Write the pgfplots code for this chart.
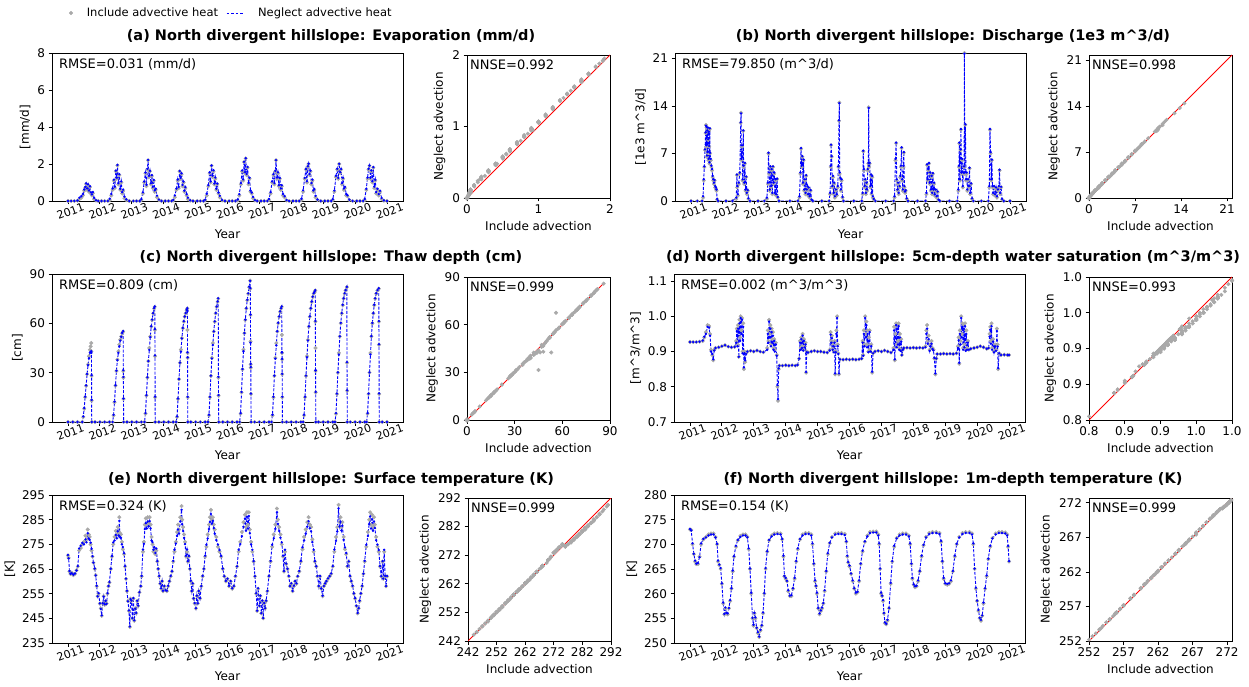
\documentclass[border=0pt]{standalone}
\usepackage{fontspec}
\setmainfont{DejaVu Sans}
\usepackage{pgfplots}
\pgfplotsset{compat=1.18}
\usepackage{pgfplotstable}
\definecolor{incgray}{RGB}{169,169,169}
\newcommand\fs[1]{\fontsize{#1}{#1}\selectfont}

\pgfplotstableread{
t inc neg
2011.00 0 0
2011.10 0 0
2011.20 0 0
2011.30 0.02 0.03
2011.36 0.10 0.18
2011.42 0.18 0.26
2011.47 0.30 0.38
2011.51 0.55 0.62
2011.54 0.70 0.76
2011.57 0.92 0.95
2011.60 0.60 0.68
2011.63 0.85 0.90
2011.66 0.50 0.57
2011.69 0.75 0.80
2011.72 0.40 0.47
2011.75 0.30 0.36
2011.78 0.42 0.48
2011.82 0.10 0.17
2011.88 0.02 0.04
2011.95 0 0
2012.05 0 0
2012.15 0 0
2012.25 0 0
2012.31 0.05 0.12
2012.36 0.30 0.38
2012.40 0.60 0.68
2012.44 1.10 1.15
2012.47 0.70 0.78
2012.50 1.60 1.64
2012.53 1.20 1.26
2012.55 1.92 1.95
2012.58 0.90 0.97
2012.61 1.40 1.45
2012.64 0.60 0.66
2012.67 1.00 1.06
2012.70 0.40 0.48
2012.73 0.55 0.61
2012.77 0.15 0.24
2012.83 0.05 0.09
2012.92 0 0
2013.05 0 0
2013.15 0 0
2013.25 0 0
2013.30 0.05 0.10
2013.35 0.40 0.47
2013.39 1.00 1.05
2013.43 1.50 1.54
2013.46 0.80 0.88
2013.49 1.70 1.74
2013.51 2.20 2.22
2013.54 1.30 1.36
2013.57 1.60 1.63
2013.60 0.90 0.96
2013.63 1.35 1.40
2013.66 0.70 0.77
2013.69 1.10 1.14
2013.72 0.50 0.58
2013.75 0.60 0.66
2013.79 0.20 0.29
2013.85 0.05 0.08
2013.93 0 0
2014.05 0 0
2014.15 0 0
2014.25 0 0
2014.30 0.03 0.06
2014.35 0.20 0.30
2014.40 0.60 0.67
2014.44 1.10 1.16
2014.47 0.70 0.76
2014.50 1.60 1.62
2014.53 1.20 1.25
2014.56 1.45 1.50
2014.59 0.80 0.87
2014.62 1.00 1.05
2014.65 0.50 0.56
2014.68 0.70 0.75
2014.72 0.30 0.37
2014.76 0.10 0.18
2014.83 0.02 0.04
2014.92 0 0
2015.05 0 0
2015.15 0 0
2015.25 0 0
2015.30 0.03 0.07
2015.35 0.30 0.39
2015.40 0.80 0.86
2015.44 1.50 1.55
2015.47 1.00 1.06
2015.50 1.90 1.92
2015.53 1.30 1.37
2015.56 1.60 1.66
2015.59 0.90 0.95
2015.62 1.20 1.27
2015.65 0.60 0.67
2015.68 0.90 0.94
2015.72 0.40 0.46
2015.76 0.20 0.28
2015.83 0.03 0.05
2015.92 0 0
2016.05 0 0
2016.15 0 0
2016.25 0 0
2016.32 0.03 0.08
2016.37 0.30 0.37
2016.42 0.90 0.97
2016.46 1.60 1.65
2016.49 1.10 1.17
2016.52 2.10 2.12
2016.55 1.50 1.56
2016.57 2.30 2.31
2016.60 1.40 1.46
2016.63 1.80 1.84
2016.66 0.90 0.98
2016.69 1.20 1.26
2016.72 0.50 0.57
2016.76 0.40 0.46
2016.80 0.15 0.22
2016.86 0.03 0.05
2016.93 0 0
2017.05 0 0
2017.15 0 0
2017.25 0 0
2017.30 0.05 0.11
2017.35 0.40 0.48
2017.40 1.00 1.06
2017.44 1.40 1.45
2017.47 0.90 0.97
2017.50 1.60 1.63
2017.52 2.20 2.21
2017.55 1.20 1.27
2017.58 1.50 1.55
2017.61 0.80 0.86
2017.64 1.20 1.24
2017.67 0.60 0.68
2017.70 0.80 0.85
2017.74 0.30 0.38
2017.79 0.20 0.26
2017.85 0.03 0.05
2017.93 0 0
2018.05 0 0
2018.15 0 0
2018.25 0 0
2018.32 0.05 0.12
2018.37 0.50 0.58
2018.42 1.20 1.25
2018.46 1.70 1.73
2018.49 1.00 1.07
2018.52 1.85 1.88
2018.54 2.00 2.02
2018.57 1.40 1.46
2018.60 1.60 1.64
2018.63 0.90 0.97
2018.66 1.10 1.16
2018.69 0.50 0.57
2018.72 0.60 0.65
2018.76 0.20 0.28
2018.82 0.05 0.08
2018.92 0 0
2019.05 0 0
2019.15 0 0
2019.25 0 0
2019.30 0.05 0.10
2019.35 0.50 0.57
2019.40 1.30 1.36
2019.44 1.70 1.74
2019.47 1.20 1.25
2019.50 2.00 2.01
2019.53 1.50 1.56
2019.56 1.70 1.73
2019.59 0.90 0.97
2019.62 1.20 1.25
2019.65 0.60 0.68
2019.68 0.70 0.76
2019.72 0.30 0.38
2019.76 0.25 0.31
2019.82 0.05 0.07
2019.92 0 0
2020.05 0 0
2020.15 0 0
2020.25 0 0
2020.30 0.05 0.11
2020.35 0.60 0.66
2020.39 1.20 1.27
2020.42 1.70 1.74
2020.45 1.90 1.92
2020.48 1.20 1.26
2020.51 1.60 1.65
2020.54 1.00 1.07
2020.57 1.80 1.83
2020.60 0.70 0.78
2020.63 1.10 1.15
2020.66 0.40 0.48
2020.70 0.60 0.66
2020.74 0.30 0.37
2020.78 0.50 0.55
2020.83 0.10 0.16
2020.90 0.02 0.03
2021.00 0 0
}\dataA

\pgfplotstableread{
t inc neg
2011.00 0 0
2011.20 0 0
2011.35 0 0
2011.38 0.5 0.7
2011.40 3.0 3.2
2011.42 5.0 5.1
2011.44 7.5 7.6
2011.46 10.0 10.1
2011.47 11.2 11.1
2011.48 8.0 8.2
2011.49 10.8 10.9
2011.50 6.5 6.7
2011.51 10.5 10.4
2011.52 7.0 7.2
2011.53 10.7 10.8
2011.54 9.0 9.1
2011.55 6.0 6.2
2011.56 10.3 10.2
2011.57 8.0 8.1
2011.58 5.5 5.7
2011.59 10.6 10.7
2011.60 7.0 7.1
2011.62 6.0 6.2
2011.64 5.0 5.2
2011.66 4.5 4.7
2011.68 3.5 3.7
2011.70 3.0 3.2
2011.72 2.5 2.7
2011.74 3.0 3.1
2011.76 2.0 2.2
2011.78 1.8 2.0
2011.80 1.5 1.7
2011.82 0.2 0.3
2011.85 0 0
2012.10 0 0
2012.30 0 0
2012.42 0.3 0.5
2012.44 3.8 3.9
2012.45 2.0 2.2
2012.47 0.8 1.0
2012.50 2.5 2.7
2012.53 4.0 4.2
2012.56 11.5 11.6
2012.57 13.0 12.9
2012.58 6.0 6.2
2012.60 8.0 8.2
2012.62 3.0 3.2
2012.64 10.3 10.4
2012.65 5.0 5.2
2012.67 2.5 2.7
2012.69 5.5 5.6
2012.71 1.5 1.7
2012.73 3.5 3.6
2012.75 1.0 1.2
2012.78 1.5 1.6
2012.80 0.3 0.4
2012.85 0 0
2013.10 0 0
2013.30 0 0
2013.38 0.3 0.5
2013.41 2.5 2.7
2013.43 7.0 7.1
2013.45 4.0 4.2
2013.47 1.5 1.7
2013.49 5.0 5.1
2013.51 2.0 2.2
2013.53 4.5 4.7
2013.55 1.0 1.2
2013.57 5.0 5.1
2013.59 2.5 2.7
2013.61 4.0 4.2
2013.63 1.0 1.2
2013.65 3.0 3.2
2013.67 0.8 1.0
2013.70 3.2 3.3
2013.72 0.5 0.6
2013.76 0 0
2014.10 0 0
2014.35 0 0
2014.40 0.5 0.7
2014.43 4.0 4.2
2014.45 7.7 7.8
2014.47 5.0 5.2
2014.49 6.5 6.6
2014.51 2.5 2.7
2014.53 6.0 6.1
2014.55 1.5 1.7
2014.57 3.0 3.2
2014.59 1.0 1.2
2014.61 3.7 3.8
2014.63 1.5 1.7
2014.65 2.0 2.2
2014.67 0.8 1.0
2014.69 1.8 2.0
2014.72 0.5 0.7
2014.75 1.5 1.6
2014.78 0.1 0.2
2014.82 0 0
2015.10 0 0
2015.33 0 0
2015.36 1.0 1.2
2015.38 5.0 5.2
2015.39 8.2 8.3
2015.41 6.5 6.6
2015.43 2.0 2.2
2015.45 3.5 3.7
2015.47 1.0 1.2
2015.49 2.5 2.7
2015.51 0.5 0.7
2015.54 1.5 1.7
2015.57 0.8 1.0
2015.60 2.0 2.2
2015.62 5.0 5.1
2015.64 11.8 11.9
2015.65 14.5 14.4
2015.66 4.0 4.2
2015.68 3.3 3.4
2015.70 1.5 1.7
2015.72 3.0 3.2
2015.75 0.5 0.6
2015.78 0 0
2016.10 0 0
2016.35 0 0
2016.38 1.0 1.2
2016.40 7.3 7.4
2016.42 4.5 4.7
2016.44 2.0 2.2
2016.46 3.0 3.2
2016.48 1.0 1.2
2016.50 2.5 2.7
2016.52 1.5 1.7
2016.54 4.5 4.7
2016.56 5.5 5.6
2016.57 13.8 13.7
2016.58 5.0 5.2
2016.60 5.5 5.6
2016.62 2.0 2.2
2016.64 3.8 3.9
2016.66 1.0 1.2
2016.68 3.5 3.7
2016.70 0.5 0.7
2016.73 0.2 0.3
2016.78 0 0
2017.10 0 0
2017.35 0 0
2017.38 0.5 0.7
2017.41 6.0 6.2
2017.43 8.5 8.6
2017.45 3.0 3.2
2017.47 1.5 1.7
2017.49 2.5 2.7
2017.51 1.0 1.2
2017.54 2.0 2.2
2017.56 3.5 3.7
2017.58 5.0 5.2
2017.60 7.8 7.9
2017.62 3.0 3.2
2017.64 1.5 1.7
2017.66 5.0 5.2
2017.67 7.1 7.2
2017.69 2.0 2.2
2017.71 1.2 1.4
2017.73 1.5 1.6
2017.76 0.3 0.4
2017.80 0 0
2018.10 0 0
2018.35 0 0
2018.38 1.0 1.2
2018.40 5.3 5.4
2018.42 3.0 3.2
2018.44 4.5 4.7
2018.46 5.5 5.6
2018.48 2.5 2.7
2018.50 4.0 4.2
2018.52 1.5 1.7
2018.54 3.5 3.7
2018.56 1.0 1.2
2018.58 4.0 4.1
2018.60 1.5 1.7
2018.62 2.5 2.7
2018.64 0.8 1.0
2018.67 1.5 1.7
2018.70 0.5 0.7
2018.73 1.3 1.4
2018.76 0.1 0.2
2018.80 0 0
2019.10 0 0
2019.35 0 0
2019.38 1.5 1.7
2019.40 5.0 5.2
2019.41 8.5 8.6
2019.43 3.0 3.2
2019.45 7.5 7.6
2019.46 10.5 10.6
2019.48 4.0 4.2
2019.50 6.0 6.2
2019.52 2.0 2.2
2019.54 4.0 4.2
2019.56 5.0 5.1
2019.57 21.8 21.7
2019.58 4.0 4.2
2019.60 11.2 11.3
2019.62 3.0 3.2
2019.64 4.0 4.2
2019.66 1.5 1.7
2019.68 3.0 3.2
2019.71 2.0 2.2
2019.73 4.8 4.9
2019.75 1.0 1.2
2019.78 2.5 2.6
2019.81 0.3 0.4
2019.85 0 0
2020.10 0 0
2020.32 0 0
2020.35 2.0 2.2
2020.37 10.5 10.6
2020.39 7.0 7.2
2020.41 3.0 3.2
2020.43 6.0 6.1
2020.45 2.0 2.2
2020.47 1.0 1.2
2020.50 2.0 2.2
2020.53 0.8 1.0
2020.56 1.8 2.0
2020.59 0.5 0.7
2020.62 1.5 1.7
2020.65 2.0 2.2
2020.67 4.5 4.6
2020.69 1.0 1.2
2020.72 2.0 2.1
2020.75 0.2 0.3
2020.80 0 0
2021.00 0 0
}\dataB

\pgfplotstableread{
t inc neg
2011.00 0 0
2011.15 0 0
2011.30 0 0
2011.45 0 0
2011.48 3 3.4
2011.51 8 8.5
2011.54 15 15.4
2011.57 22 22.3
2011.60 29 29.2
2011.63 35 34.6
2011.66 40 38.8
2011.69 44 42.2
2011.71 46 42.5
2011.73 48 43.0
2011.735 43 42.0
2011.74 28 28.5
2011.742 13 13.5
2011.745 0 0
2011.85 0 0
2012.00 0 0
2012.15 0 0
2012.30 0 0
2012.40 0 0
2012.43 4 4.4
2012.46 12 12.4
2012.49 22 22.3
2012.52 31 31.2
2012.55 38 37.6
2012.58 43 42.0
2012.61 47 46.0
2012.64 50 49.5
2012.67 52 51.8
2012.70 54 54.2
2012.73 55 55.3
2012.735 31 31.5
2012.738 27 27.4
2012.741 14 14.3
2012.745 0 0
2012.85 0 0
2013.00 0 0
2013.15 0 0
2013.30 0 0
2013.40 0 0
2013.43 5 5.4
2013.46 16 16.3
2013.49 27 27.2
2013.52 37 37.0
2013.55 45 43.8
2013.58 52 51.6
2013.61 58 58.2
2013.64 62 62.3
2013.67 66 66.2
2013.70 69 69.3
2013.72 70 70.2
2013.725 56 56.5
2013.728 40 40.5
2013.731 15 15.4
2013.735 0 0
2013.85 0 0
2014.00 0 0
2014.15 0 0
2014.30 0 0
2014.39 0 0
2014.42 3 3.4
2014.45 14 14.3
2014.48 26 26.2
2014.51 36 36.1
2014.54 44 42.8
2014.57 51 50.8
2014.60 57 57.2
2014.63 61 61.3
2014.66 64 64.2
2014.69 66 66.3
2014.72 68 68.2
2014.74 69 69.2
2014.745 56 67.5
2014.748 42 42.4
2014.75 39 39.3
2014.753 15 15.3
2014.756 0 0
2014.85 0 0
2015.00 0 0
2015.15 0 0
2015.30 0 0
2015.39 0 0
2015.42 4 4.4
2015.45 15 15.3
2015.48 28 28.2
2015.51 39 38.6
2015.54 48 46.8
2015.57 55 55.1
2015.60 61 61.2
2015.63 66 66.3
2015.66 70 70.2
2015.69 73 73.3
2015.71 75 75.2
2015.715 27 27.5
2015.72 16 16.4
2015.725 0 0
2015.85 0 0
2016.00 0 0
2016.15 0 0
2016.30 0 0
2016.38 0 0
2016.41 5 5.4
2016.44 18 18.3
2016.47 32 32.2
2016.50 44 43.0
2016.53 54 54.1
2016.56 62 62.3
2016.59 69 69.2
2016.62 74 74.3
2016.65 78 78.2
2016.68 82 82.3
2016.71 86 85.8
2016.715 81 81.4
2016.72 65 65.4
2016.723 49 48.2
2016.726 35 35.3
2016.73 33 33.4
2016.735 17 17.3
2016.74 0 0
2016.85 0 0
2017.00 0 0
2017.15 0 0
2017.30 0 0
2017.38 0 0
2017.41 4 4.4
2017.44 15 15.3
2017.47 28 28.2
2017.50 39 38.5
2017.53 48 46.6
2017.56 55 55.2
2017.59 60 60.3
2017.62 64 64.2
2017.65 67 67.3
2017.68 69 69.2
2017.70 70 70.3
2017.705 53 42.5
2017.708 42 42.3
2017.711 38 38.4
2017.714 29 29.3
2017.717 15 15.4
2017.72 0 0
2017.85 0 0
2018.00 0 0
2018.15 0 0
2018.30 0 0
2018.37 0 0
2018.40 4 4.4
2018.43 15 15.3
2018.46 28 28.2
2018.49 40 39.4
2018.52 50 49.6
2018.55 58 58.2
2018.58 64 64.3
2018.61 69 69.2
2018.64 73 73.3
2018.67 76 76.2
2018.70 78 78.3
2018.73 79 79.2
2018.75 80 80.2
2018.755 61 61.4
2018.758 45 31.5
2018.761 31 31.4
2018.764 18 18.3
2018.768 0 0
2018.85 0 0
2019.00 0 0
2019.15 0 0
2019.30 0 0
2019.37 0 0
2019.40 5 5.4
2019.43 17 17.3
2019.46 30 30.2
2019.49 42 41.0
2019.52 52 52.1
2019.55 60 60.3
2019.58 66 66.2
2019.61 71 71.3
2019.64 75 75.2
2019.67 78 78.3
2019.70 80 80.2
2019.74 82 82.2
2019.745 36 36.4
2019.75 19 19.3
2019.755 0 0
2019.85 0 0
2020.00 0 0
2020.15 0 0
2020.30 0 0
2020.36 0 0
2020.39 5 5.4
2020.42 17 17.3
2020.45 30 30.2
2020.48 42 41.0
2020.51 52 52.2
2020.54 60 60.3
2020.57 66 66.2
2020.60 71 71.3
2020.63 75 75.2
2020.66 78 78.3
2020.70 80 80.2
2020.74 81 81.3
2020.745 61 61.4
2020.748 47 47.3
2020.752 17 17.4
2020.756 0 0
2020.85 0 0
2021.00 0 0
}\dataC

\pgfplotstableread{
t inc neg
2011.00 0.927 0.927
2011.10 0.927 0.927
2011.20 0.927 0.927
2011.30 0.928 0.928
2011.40 0.930 0.931
2011.45 0.940 0.942
2011.50 0.955 0.950
2011.55 0.975 0.970
2011.60 0.972 0.968
2011.63 0.950 0.945
2011.66 0.905 0.900
2011.70 0.890 0.893
2011.73 0.875 0.878
2011.76 0.905 0.903
2011.80 0.910 0.910
2011.90 0.912 0.912
2012.00 0.915 0.915
2012.10 0.918 0.918
2012.20 0.914 0.914
2012.30 0.912 0.912
2012.40 0.913 0.913
2012.45 0.930 0.925
2012.47 0.965 0.958
2012.49 0.920 0.915
2012.51 0.975 0.965
2012.53 0.885 0.885
2012.55 0.990 0.980
2012.57 0.940 0.930
2012.59 1.000 0.995
2012.61 0.960 0.950
2012.63 0.995 0.990
2012.65 0.900 0.895
2012.67 0.980 0.970
2012.69 0.850 0.855
2012.71 0.900 0.895
2012.73 0.870 0.875
2012.76 0.895 0.893
2012.80 0.900 0.900
2012.90 0.902 0.902
2013.00 0.900 0.900
2013.10 0.903 0.903
2013.20 0.900 0.900
2013.30 0.898 0.898
2013.42 0.910 0.905
2013.44 0.960 0.950
2013.46 0.930 0.925
2013.48 0.990 0.985
2013.50 0.950 0.940
2013.52 0.975 0.965
2013.54 0.920 0.915
2013.56 0.965 0.955
2013.58 0.935 0.925
2013.60 0.955 0.945
2013.62 0.910 0.905
2013.64 0.935 0.930
2013.66 0.905 0.900
2013.69 0.925 0.920
2013.72 0.890 0.888
2013.74 0.800 0.805
2013.76 0.760 0.765
2013.78 0.850 0.852
2013.80 0.860 0.860
2013.90 0.860 0.860
2014.00 0.861 0.861
2014.10 0.860 0.860
2014.20 0.861 0.861
2014.30 0.860 0.860
2014.37 0.862 0.862
2014.42 0.880 0.880
2014.45 0.930 0.925
2014.47 0.910 0.905
2014.49 0.940 0.935
2014.51 0.915 0.910
2014.53 0.950 0.945
2014.55 0.905 0.903
2014.57 0.935 0.930
2014.60 0.915 0.912
2014.62 0.925 0.920
2014.64 0.840 0.842
2014.66 0.900 0.898
2014.70 0.897 0.897
2014.80 0.900 0.900
2014.90 0.902 0.902
2015.00 0.900 0.900
2015.10 0.900 0.900
2015.20 0.898 0.898
2015.30 0.897 0.897
2015.38 0.905 0.903
2015.41 0.955 0.948
2015.43 0.930 0.925
2015.45 0.945 0.938
2015.47 0.910 0.905
2015.49 0.920 0.915
2015.51 0.900 0.898
2015.53 0.930 0.925
2015.55 0.835 0.838
2015.57 0.900 0.898
2015.59 0.960 0.950
2015.61 1.000 0.995
2015.63 0.920 0.915
2015.65 0.895 0.893
2015.67 0.835 0.838
2015.70 0.878 0.878
2015.80 0.877 0.877
2015.90 0.878 0.878
2016.00 0.877 0.877
2016.10 0.878 0.878
2016.20 0.877 0.877
2016.30 0.878 0.878
2016.38 0.880 0.880
2016.41 0.930 0.925
2016.43 0.890 0.888
2016.45 0.960 0.950
2016.47 0.920 0.915
2016.49 1.000 0.995
2016.51 0.950 0.940
2016.53 0.985 0.975
2016.55 0.920 0.912
2016.57 0.960 0.950
2016.59 0.900 0.898
2016.61 0.940 0.930
2016.63 0.960 0.955
2016.65 0.905 0.900
2016.68 0.920 0.915
2016.71 0.840 0.843
2016.74 0.895 0.895
2016.80 0.900 0.900
2016.90 0.902 0.902
2017.00 0.900 0.900
2017.10 0.903 0.903
2017.20 0.900 0.900
2017.30 0.897 0.897
2017.38 0.910 0.905
2017.40 0.970 0.960
2017.42 0.875 0.878
2017.44 0.950 0.940
2017.46 0.980 0.975
2017.48 0.920 0.912
2017.50 0.975 0.965
2017.52 0.930 0.920
2017.54 0.980 0.972
2017.56 0.910 0.905
2017.58 0.950 0.940
2017.60 0.905 0.902
2017.62 0.935 0.928
2017.64 0.890 0.890
2017.67 0.905 0.905
2017.70 0.910 0.910
2017.80 0.911 0.911
2017.90 0.910 0.910
2018.00 0.911 0.911
2018.10 0.910 0.910
2018.20 0.911 0.911
2018.30 0.910 0.910
2018.38 0.915 0.912
2018.41 0.960 0.950
2018.43 0.975 0.965
2018.45 0.930 0.922
2018.48 0.945 0.935
2018.51 0.905 0.902
2018.54 0.920 0.915
2018.57 0.930 0.922
2018.60 0.910 0.907
2018.63 0.905 0.903
2018.66 0.880 0.882
2018.69 0.835 0.838
2018.72 0.880 0.880
2018.75 0.893 0.893
2018.85 0.893 0.893
2018.95 0.894 0.894
2019.05 0.893 0.893
2019.15 0.894 0.894
2019.25 0.893 0.893
2019.35 0.895 0.895
2019.40 0.915 0.910
2019.42 0.940 0.932
2019.44 0.865 0.868
2019.46 0.960 0.950
2019.48 0.930 0.920
2019.50 1.000 0.995
2019.52 0.950 0.940
2019.54 0.980 0.970
2019.56 0.910 0.905
2019.58 0.975 0.965
2019.60 0.920 0.912
2019.62 0.980 0.972
2019.64 0.905 0.902
2019.66 0.960 0.950
2019.68 0.910 0.905
2019.71 0.930 0.925
2019.74 0.905 0.905
2019.80 0.908 0.908
2019.90 0.910 0.910
2020.00 0.912 0.912
2020.10 0.915 0.915
2020.20 0.912 0.912
2020.30 0.908 0.908
2020.36 0.910 0.910
2020.39 0.950 0.942
2020.41 0.970 0.962
2020.43 0.930 0.922
2020.45 0.980 0.972
2020.47 0.910 0.905
2020.50 0.935 0.928
2020.53 0.900 0.898
2020.56 0.920 0.915
2020.59 0.905 0.902
2020.62 0.965 0.958
2020.64 0.920 0.914
2020.66 0.850 0.853
2020.69 0.895 0.895
2020.75 0.890 0.890
2020.85 0.891 0.891
2020.95 0.890 0.890
2021.00 0.890 0.890
}\dataD

\pgfplotstableread{
t inc neg
2011.00 270.5 270.7
2011.02 269.5 269.3
2011.05 264.0 264.2
2011.08 263.0 263.1
2011.12 263.5 263.3
2011.17 262.5 262.7
2011.22 263.0 263.2
2011.27 264.5 264.4
2011.31 266.0 266.2
2011.35 272.5 273.3
2011.40 273.5 274.4
2011.45 275.0 275.6
2011.50 276.0 275.0
2011.55 278.5 277.0
2011.58 277.0 275.8
2011.62 281.0 279.5
2011.65 279.0 277.4
2011.68 278.0 276.8
2011.71 275.0 275.7
2011.74 272.5 273.2
2011.77 270.0 270.2
2011.80 267.5 267.6
2011.84 265.0 265.2
2011.87 262.5 262.4
2011.90 258.0 258.2
2011.93 254.0 253.9
2011.96 255.0 255.2
2012.00 251.0 251.1
2012.03 249.0 248.8
2012.06 246.0 246.2
2012.09 251.0 251.1
2012.12 254.0 253.8
2012.15 250.5 250.7
2012.18 252.0 252.1
2012.21 251.0 250.9
2012.24 255.0 255.2
2012.27 258.0 258.1
2012.30 259.5 259.7
2012.34 265.0 265.1
2012.38 270.0 270.3
2012.42 275.0 275.8
2012.46 278.0 276.6
2012.50 280.5 278.8
2012.53 279.0 277.5
2012.56 282.0 280.3
2012.59 280.0 278.6
2012.61 286.0 284.5
2012.63 279.5 278.0
2012.66 279.0 277.6
2012.69 276.0 275.0
2012.72 273.0 273.9
2012.76 271.0 271.4
2012.79 266.0 266.2
2012.82 261.0 261.1
2012.85 256.0 256.2
2012.88 252.0 251.9
2012.91 248.0 248.2
2012.94 241.5 241.7
2012.96 253.0 252.8
2012.99 252.0 252.2
2013.02 245.0 245.1
2013.05 253.0 253.2
2013.08 244.0 244.2
2013.11 249.0 248.9
2013.14 247.0 247.2
2013.17 252.0 252.1
2013.20 250.0 250.2
2013.24 255.5 255.6
2013.28 258.0 258.1
2013.31 262.0 262.2
2013.35 272.0 272.9
2013.38 276.0 275.2
2013.41 283.0 281.2
2013.44 285.5 283.6
2013.47 283.0 281.4
2013.50 286.0 284.2
2013.53 284.0 282.3
2013.56 286.0 284.4
2013.59 283.0 281.5
2013.62 278.0 276.5
2013.65 275.0 275.9
2013.68 272.0 272.8
2013.71 273.0 273.8
2013.74 271.0 271.5
2013.77 272.5 273.3
2013.80 268.0 268.2
2013.83 265.0 265.1
2013.86 262.0 262.2
2013.89 259.0 259.1
2013.92 257.0 257.2
2013.95 260.0 260.1
2013.98 256.0 256.2
2014.02 258.0 258.1
2014.06 256.5 256.4
2014.10 256.0 256.2
2014.14 258.0 258.2
2014.18 260.0 260.1
2014.22 262.0 262.2
2014.26 264.0 264.1
2014.30 268.0 268.3
2014.34 272.0 272.8
2014.38 276.0 275.3
2014.42 280.0 278.4
2014.45 283.0 281.0
2014.48 281.0 279.4
2014.52 286.0 284.3
2014.56 290.5 289.0
2014.58 285.0 283.2
2014.61 282.0 280.4
2014.64 279.0 277.6
2014.67 276.0 275.1
2014.70 270.0 270.4
2014.73 272.0 272.9
2014.76 268.0 268.2
2014.79 270.0 270.3
2014.82 265.0 265.1
2014.85 260.0 260.2
2014.88 256.0 256.1
2014.91 259.0 259.2
2014.94 253.0 253.1
2014.97 251.0 251.2
2015.01 249.0 249.1
2015.04 254.0 254.2
2015.07 251.0 251.1
2015.10 256.0 256.1
2015.14 253.0 253.2
2015.18 258.0 258.1
2015.22 262.0 262.2
2015.26 265.0 265.1
2015.30 270.0 270.4
2015.34 274.0 274.8
2015.38 279.0 277.4
2015.42 283.0 281.2
2015.45 286.0 284.1
2015.48 289.0 287.3
2015.51 285.0 283.4
2015.54 286.0 284.5
2015.57 283.0 281.6
2015.60 281.0 279.3
2015.65 278.0 276.7
2015.70 274.0 274.9
2015.75 272.0 272.7
2015.80 270.0 270.3
2015.85 265.0 265.2
2015.90 262.0 262.1
2015.95 260.0 260.2
2016.00 261.0 261.1
2016.05 258.0 258.2
2016.10 260.0 260.1
2016.15 257.0 257.2
2016.20 258.0 258.1
2016.25 262.0 262.2
2016.30 266.0 266.1
2016.35 272.0 272.8
2016.40 276.0 275.1
2016.45 280.0 278.3
2016.50 284.0 282.1
2016.55 287.0 285.4
2016.58 282.0 280.5
2016.61 288.0 286.2
2016.64 283.0 281.4
2016.67 288.0 286.5
2016.70 281.0 279.5
2016.74 276.0 275.0
2016.78 272.0 272.8
2016.82 268.0 268.2
2016.86 262.0 262.1
2016.90 255.0 255.2
2016.93 248.0 248.1
2016.96 257.0 257.2
2017.00 250.0 250.1
2017.03 254.0 254.2
2017.06 247.0 247.1
2017.09 252.0 252.2
2017.12 245.0 245.1
2017.15 251.0 251.2
2017.18 249.0 249.1
2017.21 252.0 252.2
2017.25 256.0 256.1
2017.30 262.0 262.2
2017.35 268.0 268.3
2017.40 274.0 274.8
2017.45 279.0 277.5
2017.50 283.0 281.3
2017.55 289.5 288.0
2017.58 285.0 283.3
2017.62 282.0 280.4
2017.66 279.0 277.7
2017.70 275.0 275.8
2017.74 270.0 270.4
2017.77 264.0 264.2
2017.80 272.0 272.8
2017.84 267.0 267.2
2017.88 265.0 265.1
2017.92 262.0 262.2
2017.96 258.0 258.1
2018.00 259.0 259.2
2018.04 256.0 256.1
2018.08 258.0 258.2
2018.12 260.0 260.1
2018.16 259.0 259.2
2018.20 262.0 262.1
2018.25 264.0 264.2
2018.30 268.0 268.3
2018.35 273.0 273.8
2018.40 278.0 276.6
2018.45 281.0 279.3
2018.50 284.0 282.2
2018.54 286.0 284.4
2018.58 283.0 281.5
2018.62 282.0 280.3
2018.66 277.0 275.9
2018.70 272.0 272.8
2018.74 268.0 268.2
2018.78 266.0 266.1
2018.82 262.0 262.2
2018.86 258.0 258.1
2018.90 262.0 262.2
2018.94 257.0 257.1
2018.98 254.0 254.2
2019.02 258.0 258.1
2019.06 259.0 259.2
2019.10 260.0 260.1
2019.15 261.0 261.2
2019.20 262.0 262.1
2019.25 263.0 263.2
2019.30 266.0 266.2
2019.35 272.0 272.9
2019.40 278.0 276.4
2019.44 282.0 280.2
2019.48 291.0 289.6
2019.51 284.0 282.3
2019.54 286.0 284.1
2019.57 282.0 280.6
2019.60 284.0 282.5
2019.64 278.0 276.8
2019.68 273.0 273.8
2019.72 271.0 271.5
2019.76 266.0 266.2
2019.80 268.0 268.1
2019.84 262.0 262.2
2019.88 260.0 260.1
2019.92 258.0 258.2
2019.96 255.0 255.1
2020.00 253.0 253.2
2020.04 250.0 250.1
2020.08 247.0 247.2
2020.11 249.0 249.1
2020.14 252.0 252.2
2020.18 255.0 255.1
2020.22 258.0 258.2
2020.26 263.0 263.1
2020.30 268.0 268.3
2020.35 274.0 274.8
2020.40 280.0 278.4
2020.44 285.0 283.2
2020.47 288.0 286.3
2020.50 283.0 281.4
2020.53 287.0 285.2
2020.56 282.0 280.5
2020.59 286.0 284.3
2020.62 283.0 281.6
2020.66 278.0 276.7
2020.70 274.0 274.9
2020.74 272.0 272.7
2020.78 266.0 266.2
2020.82 262.0 262.1
2020.86 268.0 268.2
2020.88 261.0 261.1
2020.91 272.0 272.8
2020.94 262.0 262.2
2020.97 258.0 258.1
2021.00 262.0 262.2
}\dataE

\pgfplotstableread{
t inc neg
2011.00 273.0 273.1
2011.04 272.9 272.8
2011.08 270.0 270.2
2011.12 268.0 268.1
2011.16 266.5 266.7
2011.20 266.0 266.1
2011.25 266.0 266.2
2011.30 267.5 267.4
2011.35 270.0 270.2
2011.42 271.0 271.1
2011.50 271.5 271.4
2011.58 272.0 271.8
2011.66 272.2 272.0
2011.74 272.2 272.0
2011.80 271.5 271.4
2011.85 270.0 270.1
2011.88 266.5 266.7
2011.92 265.8 265.9
2011.96 265.0 265.2
2012.00 262.0 262.1
2012.04 258.0 258.2
2012.08 255.8 255.9
2012.11 257.0 257.2
2012.14 256.0 256.1
2012.18 255.8 256.0
2012.22 257.0 257.1
2012.26 258.5 258.7
2012.30 261.0 261.1
2012.34 264.5 264.7
2012.38 267.5 267.6
2012.44 269.5 269.7
2012.50 270.8 270.9
2012.58 271.7 271.5
2012.66 272.0 271.8
2012.74 272.0 271.8
2012.80 271.5 271.4
2012.84 269.0 269.2
2012.88 265.0 265.1
2012.92 260.0 260.2
2012.96 255.0 255.1
2012.99 253.5 253.7
2013.02 256.0 256.1
2013.05 255.0 255.2
2013.09 253.0 253.1
2013.13 252.0 252.2
2013.17 251.2 251.3
2013.21 252.5 252.7
2013.25 253.5 253.6
2013.29 256.0 256.2
2013.33 260.0 260.1
2013.37 265.0 265.2
2013.42 268.5 268.6
2013.48 270.8 270.9
2013.56 271.8 271.6
2013.64 272.2 272.0
2013.74 272.3 272.1
2013.84 272.2 272.0
2013.89 271.0 271.1
2013.93 267.5 267.7
2013.96 263.5 263.6
2014.00 263.0 263.2
2014.04 262.5 262.6
2014.08 260.5 260.7
2014.13 259.5 259.6
2014.18 259.5 259.7
2014.23 261.0 261.1
2014.28 263.0 263.2
2014.33 266.5 266.6
2014.38 269.0 269.2
2014.45 271.0 271.1
2014.53 272.0 271.8
2014.62 272.3 272.1
2014.72 272.3 272.1
2014.80 272.0 271.8
2014.84 270.0 270.2
2014.88 266.0 266.1
2014.92 262.5 262.7
2014.95 261.5 261.6
2014.98 260.0 260.2
2015.02 257.0 257.1
2015.06 255.8 256.0
2015.10 256.5 256.6
2015.14 257.0 257.2
2015.18 258.0 258.1
2015.22 260.5 260.7
2015.27 264.5 264.6
2015.32 268.0 268.2
2015.38 270.2 270.3
2015.45 271.5 271.4
2015.55 272.2 272.0
2015.65 272.3 272.1
2015.75 272.3 272.1
2015.85 272.1 271.9
2015.90 270.5 270.6
2015.93 267.5 267.7
2015.96 266.3 266.4
2016.00 265.5 265.7
2016.05 264.0 264.1
2016.10 262.5 262.7
2016.15 261.0 261.1
2016.20 260.0 260.2
2016.25 260.3 260.4
2016.30 262.5 262.7
2016.35 266.0 266.1
2016.41 268.5 268.7
2016.48 270.5 270.6
2016.56 271.8 271.6
2016.64 272.5 272.3
2016.74 272.6 272.4
2016.84 272.6 272.4
2016.90 272.0 271.8
2016.93 270.0 270.2
2016.96 265.0 265.1
2016.99 260.0 260.2
2017.02 259.5 259.6
2017.05 258.5 258.7
2017.08 256.0 256.1
2017.11 254.0 254.2
2017.15 253.8 253.9
2017.19 254.5 254.7
2017.24 257.0 257.1
2017.29 262.0 262.2
2017.34 266.5 266.6
2017.40 269.5 269.7
2017.48 271.3 271.2
2017.57 272.0 271.8
2017.67 272.2 272.0
2017.77 272.2 272.0
2017.86 271.8 271.6
2017.90 270.0 270.2
2017.94 266.0 266.1
2017.97 263.0 263.2
2018.01 261.8 261.9
2018.05 261.3 261.5
2018.10 261.5 261.6
2018.15 262.5 262.7
2018.20 264.5 264.6
2018.26 267.5 267.7
2018.32 269.8 269.9
2018.40 271.5 271.4
2018.50 272.3 272.1
2018.60 272.5 272.3
2018.72 272.5 272.3
2018.82 272.3 272.1
2018.87 270.5 270.7
2018.91 266.5 266.6
2018.95 263.0 263.2
2019.00 262.0 262.1
2019.06 261.8 262.0
2019.12 262.0 262.1
2019.18 262.5 262.7
2019.24 264.5 264.6
2019.30 267.5 267.7
2019.36 270.0 270.1
2019.44 271.5 271.4
2019.54 272.3 272.1
2019.64 272.5 272.3
2019.76 272.5 272.3
2019.84 272.2 272.0
2019.88 270.0 270.2
2019.92 265.0 265.1
2019.96 261.0 261.2
2020.00 258.5 258.6
2020.04 256.5 256.7
2020.08 255.0 255.1
2020.12 254.5 254.7
2020.16 255.5 255.6
2020.20 258.0 258.2
2020.25 261.0 261.1
2020.30 263.5 263.7
2020.35 267.0 267.1
2020.41 269.5 269.7
2020.48 271.3 271.2
2020.58 272.2 272.0
2020.68 272.5 272.3
2020.78 272.5 272.3
2020.88 272.4 272.2
2020.94 272.0 271.8
2020.97 269.5 269.7
2021.00 266.5 266.6
}\dataF

\tikzset{
  ann/.style={anchor=north west, inner sep=0pt, font=\fs{13}, xshift=7pt, yshift=-5pt},
  annsc/.style={anchor=north west, inner sep=0pt, font=\fs{13}, xshift=3pt, yshift=-5pt},
}
\pgfplotsset{
  /pgf/number format/assume math mode=true,
  /pgf/number format/1000 sep={},
  myax/.style={scale only axis, anchor=south west,
    axis line style={line width=0.8pt},
    tick align=outside, tick pos=left, major tick length=3.5pt,
    tick style={black, line width=0.8pt},
    tick label style={font=\fs{12}},
    label style={font=\fs{12}}},
  ts/.style={myax, width=351pt, height=148pt, xmin=2010.5, xmax=2021.5,
    xtick={2011,2012,2013,2014,2015,2016,2017,2018,2019,2020,2021},
    xlabel={Year}, xlabel style={yshift=-4pt},
    xticklabel style={rotate=20, anchor=north, yshift=-1pt, inner sep=2pt, font=\fs{11}}},
  sc/.style={myax, width=143pt, height=143pt,
    xlabel={Include advection}, ylabel={Neglect advection}},
  incts/.style={only marks, mark=*, mark size=1.8pt, color=incgray},
  negts/.style={color=blue, line width=0.9pt, dash pattern=on 3pt off 1.5pt,
    mark=*, mark size=0.7pt, mark options={solid, draw=blue, fill=blue}},
  incsc/.style={only marks, mark=*, mark size=1.8pt, color=incgray},
  oneone/.style={red, line width=1pt},
}

\begin{document}
\begin{tikzpicture}
% ---------- (a)
\begin{axis}[ts, at={(52pt,485pt)}, ymin=0, ymax=8, ytick={0,2,4,6,8},
  ylabel={\lbrack mm/d\rbrack},
  legend columns=2,
  legend style={draw=none, fill=none,
    at={(0.04,1.27)}, anchor=west,
    font=\fs{11.5},
    /tikz/every odd column/.append style={column sep=12pt},
    /tikz/every even column/.append style={column sep=6pt}}]
\addlegendimage{only marks, mark=*, mark size=1.8pt, color=incgray}
\addlegendentry{Include advective heat}
\addlegendimage{color=blue, line width=1pt, dash pattern=on 2.5pt off 2pt}
\addlegendentry{Neglect advective heat}
\addplot[incts, forget plot] table[x=t, y=inc]{\dataA};
\addplot[negts, forget plot] table[x=t, y=neg]{\dataA};
\node[ann] at (rel axis cs:0,1) {RMSE=0.031 (mm/d)};
\end{axis}
\begin{axis}[sc, at={(467pt,488pt)}, xmin=0, xmax=2, ymin=0, ymax=2, xtick={0,1,2}, ytick={0,1,2}]
\addplot[incsc] table[x=inc, y=neg]{\dataA};
\addplot[oneone] coordinates {(0,0) (2,2)};
\node[annsc] at (rel axis cs:0,1) {NNSE=0.992};
\end{axis}
% ---------- (b)
\begin{axis}[ts, at={(675pt,485pt)}, ymin=0, ymax=21.8, ytick={0,7,14,21},
  ylabel={\lbrack 1e3 m\textasciicircum 3/d\rbrack}]
\addplot[incts] table[x=t, y=inc]{\dataB};
\addplot[negts] table[x=t, y=neg]{\dataB};
\node[ann] at (rel axis cs:0,1) {RMSE=79.850 (m\textasciicircum 3/d)};
\end{axis}
\begin{axis}[sc, at={(1089pt,488pt)}, xmin=0, xmax=21.76, ymin=0, ymax=21.76, xtick={0,7,14,21}, ytick={0,7,14,21}]
\addplot[incsc] table[x=inc, y=neg]{\dataB};
\addplot[oneone] coordinates {(0,0) (21.76,21.76)};
\node[annsc] at (rel axis cs:0,1) {NNSE=0.998};
\end{axis}
% ---------- (c)
\begin{axis}[ts, at={(52pt,264pt)}, ymin=0, ymax=90, ytick={0,30,60,90},
  ylabel={\lbrack cm\rbrack}]
\addplot[incts] table[x=t, y=inc]{\dataC};
\addplot[negts] table[x=t, y=neg]{\dataC};
\node[ann] at (rel axis cs:0,1) {RMSE=0.809 (cm)};
\end{axis}
\begin{axis}[sc, at={(467pt,266pt)}, xmin=0, xmax=90, ymin=0, ymax=90, xtick={0,30,60,90}, ytick={0,30,60,90}]
\addplot[incsc] table[x=inc, y=neg]{\dataC};
\addplot[oneone] coordinates {(0,0) (86,86)};
\node[annsc] at (rel axis cs:0,1) {NNSE=0.999};
\end{axis}
% ---------- (d)
\begin{axis}[ts, at={(674pt,264pt)}, ymin=0.7, ymax=1.12, ytick={0.7,0.8,0.9,1.0,1.1},
  yticklabel style={/pgf/number format/.cd, fixed, fixed zerofill, precision=1},
  ylabel={\lbrack m\textasciicircum 3/m\textasciicircum 3\rbrack}]
\addplot[incts] table[x=t, y=inc]{\dataD};
\addplot[negts] table[x=t, y=neg]{\dataD};
\node[ann] at (rel axis cs:0,1) {RMSE=0.002 (m\textasciicircum 3/m\textasciicircum 3)};
\end{axis}
\begin{axis}[sc, at={(1089pt,266pt)}, xmin=0.8, xmax=1.0, ymin=0.8, ymax=1.0,
  xtick={0.8,0.85,0.9,0.95,1.0}, xticklabels={0.8,0.9,0.9,1.0,1.0},
  ytick={0.8,0.85,0.9,0.95,1.0}, yticklabels={0.8,0.9,0.9,1.0,1.0}]
\addplot[incsc] table[x=inc, y=neg]{\dataD};
\addplot[oneone] coordinates {(0.8,0.8) (1.0,1.0)};
\node[annsc] at (rel axis cs:0,1) {NNSE=0.993};
\end{axis}
% ---------- (e)
\begin{axis}[ts, at={(52pt,43pt)}, ymin=235, ymax=295, ytick={235,245,255,265,275,285,295},
  ylabel={\lbrack K\rbrack}]
\addplot[incts] table[x=t, y=inc]{\dataE};
\addplot[negts] table[x=t, y=neg]{\dataE};
\node[ann] at (rel axis cs:0,1) {RMSE=0.324 (K)};
\end{axis}
\begin{axis}[sc, at={(468pt,45pt)}, xmin=242, xmax=292, ymin=242, ymax=292,
  xtick={242,252,262,272,282,292}, ytick={242,252,262,272,282,292}]
\addplot[incsc] table[x=inc, y=neg]{\dataE};
\addplot[oneone] coordinates {(242,242) (292,292)};
\node[annsc] at (rel axis cs:0,1) {NNSE=0.999};
\end{axis}
% ---------- (f)
\begin{axis}[ts, at={(674pt,43pt)}, ymin=250, ymax=280, ytick={250,255,260,265,270,275,280},
  ylabel={\lbrack K\rbrack}]
\addplot[incts] table[x=t, y=inc]{\dataF};
\addplot[negts] table[x=t, y=neg]{\dataF};
\node[ann] at (rel axis cs:0,1) {RMSE=0.154 (K)};
\end{axis}
\begin{axis}[sc, at={(1089pt,45pt)}, xmin=252, xmax=272.7, ymin=252, ymax=272.7,
  xtick={252,257,262,267,272}, ytick={252,257,262,267,272}]
\addplot[incsc] table[x=inc, y=neg]{\dataF};
\addplot[oneone] coordinates {(252,252) (272.7,272.7)};
\node[annsc] at (rel axis cs:0,1) {NNSE=0.999};
\end{axis}
% ---------- titles
\begin{scope}[every node/.style={font=\bfseries\fs{14.5}}]
\node at (331pt,649pt) {(a) North divergent hillslope: Evaporation (mm/d)};
\node at (953pt,649pt) {(b) North divergent hillslope: Discharge (1e3 m\textasciicircum 3/d)};
\node at (331pt,428pt) {(c) North divergent hillslope: Thaw depth (cm)};
\node at (953pt,428pt) {(d) North divergent hillslope: 5cm-depth water saturation (m\textasciicircum 3/m\textasciicircum 3)};
\node at (331pt,206pt) {(e) North divergent hillslope: Surface temperature (K)};
\node at (953pt,206pt) {(f) North divergent hillslope: 1m-depth temperature (K)};
\end{scope}
\pgfresetboundingbox
\path[use as bounding box] (0pt,0pt) rectangle (1249pt,686pt);
\end{tikzpicture}
\end{document}
